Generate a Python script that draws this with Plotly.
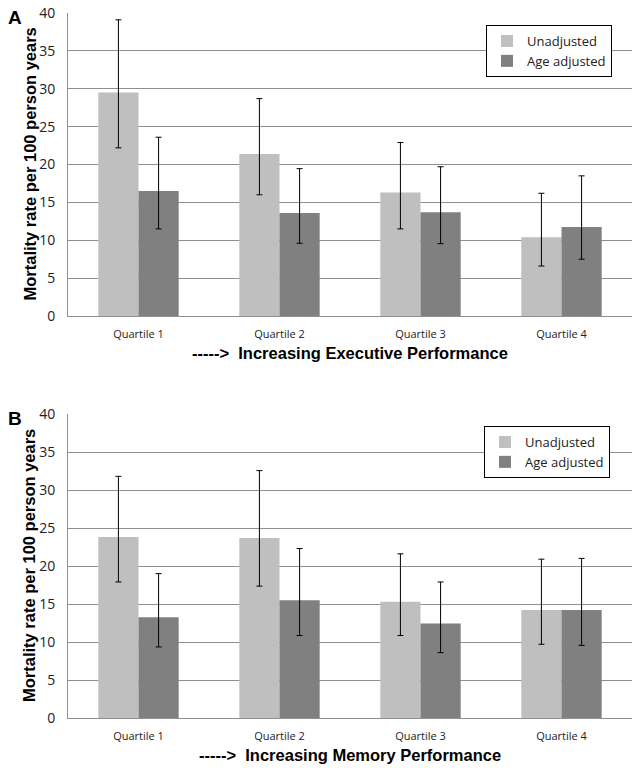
import plotly.graph_objects as go
from plotly.subplots import make_subplots

categories = ["Quartile 1", "Quartile 2", "Quartile 3", "Quartile 4"]
series_names = ["Unadjusted", "Age adjusted"]

# Panel A: Executive performance
a_unadj = [29.5, 21.4, 16.3, 10.4]
a_unadj_hi = [39.1, 28.7, 22.9, 16.2]
a_unadj_lo = [22.2, 16.0, 11.5, 6.6]
a_adj = [16.5, 13.6, 13.7, 11.75]
a_adj_hi = [23.6, 19.45, 19.7, 18.5]
a_adj_lo = [11.5, 9.6, 9.55, 7.5]

# Panel B: Memory performance
b_unadj = [23.8, 23.7, 15.3, 14.2]
b_unadj_hi = [31.8, 32.55, 21.6, 20.9]
b_unadj_lo = [17.9, 17.35, 10.85, 9.7]
b_adj = [13.25, 15.5, 12.45, 14.2]
b_adj_hi = [19.0, 22.3, 17.9, 21.0]
b_adj_lo = [9.35, 10.85, 8.6, 9.55]

y_ticks = [0, 5, 10, 15, 20, 25, 30, 35, 40]
y_title = "Mortality rate per 100 person years"
x_titles = ["----->  Increasing Executive Performance", "----->  Increasing Memory Performance"]
panel_letters = ["A", "B"]

LIGHT = "#bfbfbf"
DARK = "#808080"
GRID = "#8f8f8f"
TICKFONT = "Open Sans"

W, H = 640, 774
ML, MR, MT, MB = 68, 8, 13, 56
PH = H - MT - MB


def py(p):
    return (H - MB - p) / PH


def px(p):
    return (p - ML) / (W - ML - MR)


fig = make_subplots(rows=2, cols=1)

panels = [
    (a_unadj, a_unadj_hi, a_unadj_lo, a_adj, a_adj_hi, a_adj_lo),
    (b_unadj, b_unadj_hi, b_unadj_lo, b_adj, b_adj_hi, b_adj_lo),
]

for i, (u, uh, ul, d, dh, dl) in enumerate(panels):
    row = i + 1
    leg = "legend" if i == 0 else "legend2"
    for name, vals, hi, lo, col in [
        (series_names[0], u, uh, ul, LIGHT),
        (series_names[1], d, dh, dl, DARK),
    ]:
        fig.add_trace(
            go.Bar(
                x=categories,
                y=vals,
                name=name,
                marker=dict(color=col, line=dict(width=0)),
                error_y=dict(
                    type="data",
                    symmetric=False,
                    array=[h - v for h, v in zip(hi, vals)],
                    arrayminus=[v - l for v, l in zip(vals, lo)],
                    color="#000000",
                    thickness=1,
                    width=3,
                ),
                legend=leg,
            ),
            row=row,
            col=1,
        )

legend_common = dict(
    xanchor="left", yanchor="top",
    bordercolor="#000000", borderwidth=1, bgcolor="white",
    font=dict(family=TICKFONT, size=13, color="#222"),
    tracegroupgap=0, itemwidth=30,
)

fig.update_layout(
    width=W,
    height=H,
    margin=dict(l=ML, r=MR, t=MT, b=MB, autoexpand=False),
    paper_bgcolor="white",
    plot_bgcolor="white",
    barmode="group",
    bargap=0.43,
    bargroupgap=0,
    showlegend=True,
    legend=dict(x=px(486), y=py(25), **legend_common),
    legend2=dict(x=px(484), y=py(426), **legend_common),
)

domains = [[py(316), 1.0], [0.0, py(414)]]
for i in range(2):
    xa = "xaxis" if i == 0 else "xaxis2"
    ya = "yaxis" if i == 0 else "yaxis2"
    fig.layout[ya].update(
        domain=domains[i],
        range=[0, 40],
        tickvals=y_ticks,
        showgrid=True,
        gridcolor=GRID,
        gridwidth=1,
        showline=True,
        linecolor=GRID,
        linewidth=1,
        zeroline=False,
        ticks="",
        automargin=False,
        ticklabelstandoff=9,
        tickfont=dict(family=TICKFONT, size=14, color="#222"),
    )
    fig.layout[xa].update(
        showline=True,
        linecolor=GRID,
        linewidth=1,
        showgrid=False,
        ticks="",
        automargin=False,
        ticklabelstandoff=8,
        tickfont=dict(family=TICKFONT, size=11, color="#222"),
    )

annots = []
for i in range(2):
    top = 13 if i == 0 else 414
    bot = 316 if i == 0 else 718
    annots.append(dict(
        text="<b>" + panel_letters[i] + "</b>", x=px(15), y=py(top + 4),
        xref="paper", yref="paper", showarrow=False, xanchor="center", yanchor="middle",
        font=dict(family="Liberation Sans", size=19, color="#000"),
    ))
    annots.append(dict(
        text="<b>" + y_title + "</b>", x=px(29), y=py((top + bot) / 2),
        xref="paper", yref="paper", showarrow=False, textangle=-90,
        xanchor="center", yanchor="middle",
        font=dict(family="Liberation Sans", size=16.5, color="#000"),
    ))
    annots.append(dict(
        text="<b>" + x_titles[i] + "</b>", x=0.5, y=py(bot + 37),
        xref="paper", yref="paper", showarrow=False,
        xanchor="center", yanchor="middle",
        font=dict(family="Liberation Sans", size=16.5, color="#000"),
    ))
fig.update_layout(annotations=annots)

fig.write_html(
    "out.html",
    config={"displayModeBar": False},
    post_script="document.body.style.margin='0';document.body.style.padding='0';",
)
